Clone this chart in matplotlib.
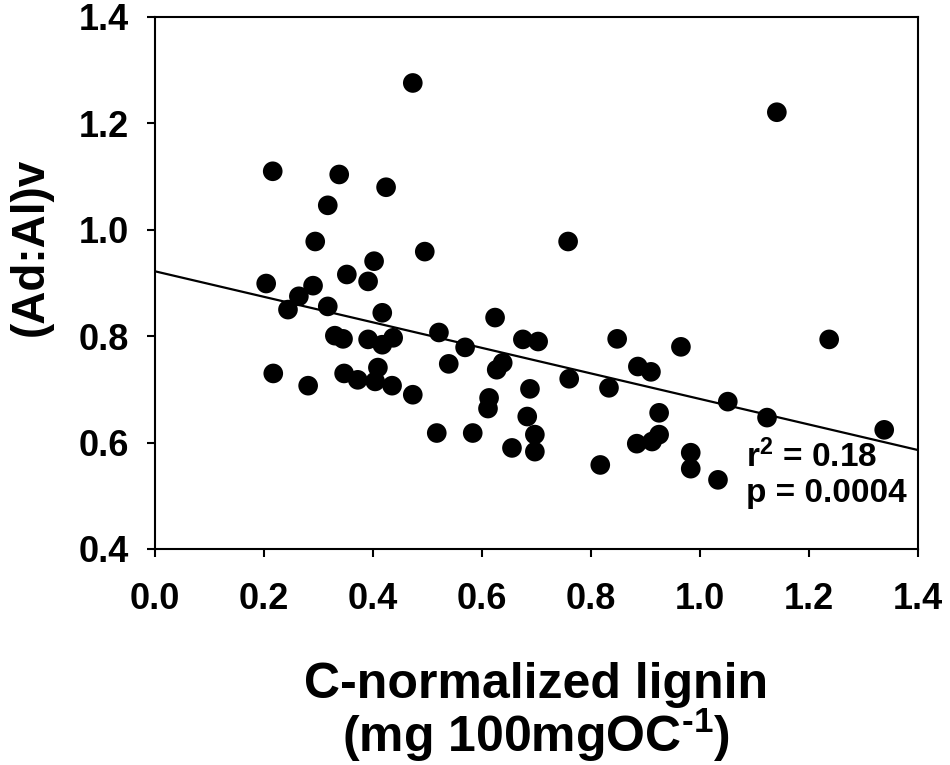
import matplotlib
matplotlib.use("Agg")
import matplotlib.pyplot as plt

plt.rcParams['font.family'] = ['Liberation Sans', 'DejaVu Sans']
plt.rcParams['font.weight'] = 'bold'
plt.rcParams['mathtext.fontset'] = 'custom'
plt.rcParams['mathtext.rm'] = 'Liberation Sans:bold'
plt.rcParams['mathtext.it'] = 'Liberation Sans:bold'
plt.rcParams['mathtext.bf'] = 'Liberation Sans:bold'
plt.rcParams['mathtext.default'] = 'rm'

lignin = [0.473, 1.141, 0.216, 0.338, 0.424, 0.317, 0.294, 0.758, 0.495, 0.402,
          0.352, 0.391, 0.204, 0.290, 0.264, 0.244, 0.317, 0.417, 0.624, 0.330,
          0.345, 0.391, 0.417, 0.437, 0.521, 0.569, 0.539, 0.675, 0.703, 0.638,
          0.627, 0.217, 0.281, 0.347, 0.372, 0.409, 0.404, 0.435, 0.473, 0.613,
          0.611, 0.688, 0.683, 0.697, 0.697, 0.517, 0.583, 0.655, 0.848, 0.965,
          0.886, 0.910, 0.760, 0.833, 1.051, 1.123, 1.338, 0.925, 0.884, 0.925,
          0.912, 0.817, 0.983, 0.983, 1.033, 1.237]
ad_al = [1.276, 1.221, 1.110, 1.104, 1.080, 1.046, 0.978, 0.978, 0.959, 0.941,
         0.916, 0.903, 0.899, 0.895, 0.875, 0.850, 0.856, 0.844, 0.835, 0.801,
         0.795, 0.794, 0.784, 0.797, 0.807, 0.779, 0.748, 0.794, 0.790, 0.750,
         0.737, 0.730, 0.707, 0.730, 0.718, 0.741, 0.715, 0.707, 0.690, 0.684,
         0.664, 0.701, 0.649, 0.615, 0.583, 0.618, 0.618, 0.590, 0.795, 0.780,
         0.743, 0.733, 0.720, 0.703, 0.677, 0.647, 0.624, 0.656, 0.598, 0.615,
         0.602, 0.558, 0.581, 0.551, 0.530, 0.794]

fit_intercept = 0.922
fit_slope = -0.24
fit_x = [0.0, 1.4]

x_ticks = [0.0, 0.2, 0.4, 0.6, 0.8, 1.0, 1.2, 1.4]
y_ticks = [0.4, 0.6, 0.8, 1.0, 1.2, 1.4]

r2_text = "r$^{2}$ = 0.18"
p_text = "p = 0.0004"

fig = plt.figure(figsize=(9.5, 7.65), dpi=100)
ax = fig.add_axes([155/950, 1-549/765, (918-155)/950, (549-17)/765])

ax.scatter(lignin, ad_al, s=200, color='black', edgecolors='none', zorder=3)
ax.plot(fit_x, [fit_intercept + fit_slope*v for v in fit_x], color='black', lw=1.6, zorder=2)

ax.set_xlim(0, 1.4)
ax.set_ylim(0.4, 1.4)
ax.set_xticks(x_ticks)
ax.set_yticks(y_ticks)
ax.set_xticklabels([f"{v:.1f}" for v in x_ticks])
ax.set_yticklabels([f"{v:.1f}" for v in y_ticks])
ax.tick_params(axis='both', direction='out', length=6, width=1.5, labelsize=26)
ax.tick_params(axis='x', pad=18)
ax.tick_params(axis='y', pad=13)
for sp in ax.spines.values():
    sp.set_linewidth(1.5)

try:
    xl = "C-normalized lignin\n(mg 100mgOC$^{\\text{-}1}$)"
    ax.set_xlabel(xl, fontsize=36, fontweight='bold', linespacing=0.98)
    fig.canvas.draw()
except Exception:
    xl = "C-normalized lignin\n(mg 100mgOC$^{-1}$)"
    ax.set_xlabel(xl, fontsize=36, fontweight='bold', linespacing=0.98)
ax.xaxis.set_label_coords(0.5, -0.212)
ax.set_ylabel("(Ad:Al)v", fontsize=33, fontweight='bold')
ax.yaxis.set_label_coords(-0.134, 0.568)

ax.text(1.084, 0.554, r2_text, fontsize=24, fontweight='bold', ha='left', va='baseline')
ax.text(1.084, 0.489, p_text, fontsize=24, fontweight='bold', ha='left', va='baseline')

fig.savefig("out.png", dpi=100)
